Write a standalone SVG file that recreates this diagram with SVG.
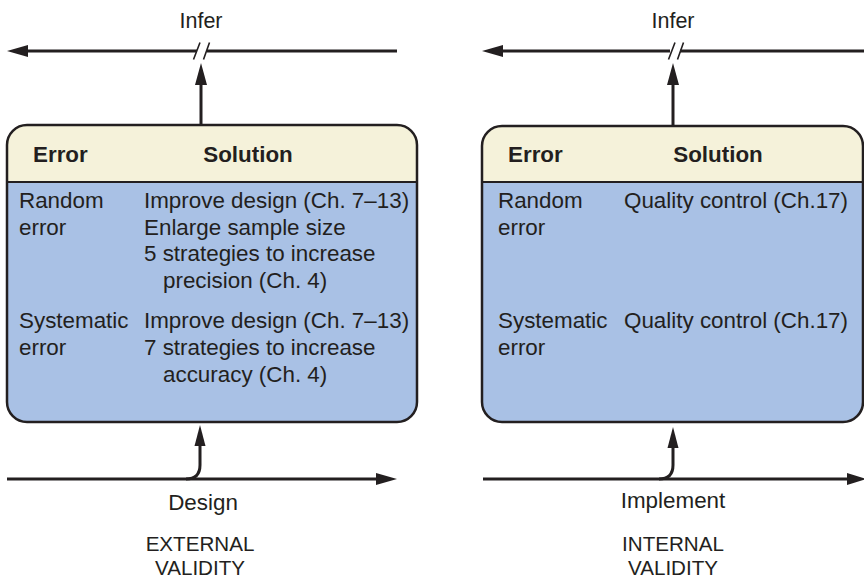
<svg xmlns="http://www.w3.org/2000/svg" width="864" height="579" viewBox="0 0 864 579">
<defs>
<style>
text{font-family:"Liberation Sans",Arial,sans-serif;fill:#231f20;font-size:22.4px}
.b{font-weight:bold}
.m{text-anchor:middle}
.v{font-size:20.6px}
.ln{stroke:#231f20;stroke-width:3;fill:none}
.sl{stroke:#231f20;stroke-width:1.6;fill:none}
.hd{fill:#f5f2da}
.bd{fill:#a9c1e5}
.ol{fill:none;stroke:#231f20;stroke-width:2.5}
.ah{fill:#231f20}
</style>
</defs>
<rect width="864" height="579" fill="#fff"/>
<g id="connectors">
<path class="ln" d="M24,51 H197 M207,51 H397"/>
<polygon class="ah" points="7,51 28,45 28,57"/>
<path class="sl" d="M193.5,59.5 L200,42.5 M203.5,59.5 L209.5,42.5"/>
<path class="ln" d="M201,126 V82"/>
<polygon class="ah" points="201,63 195,85 207,85"/>
<path class="ln" d="M7,479 H380"/>
<polygon class="ah" points="397,479 376,473 376,485"/>
<path class="ln" d="M186,479 Q200,479 200,465 V443"/>
<polygon class="ah" points="200,425 194.5,446 205.5,446"/>
<path class="ln" d="M498,51 H670 M680,51 H864"/>
<polygon class="ah" points="482,51 503,45 503,57"/>
<path class="sl" d="M668.5,59.5 L675,42.5 M677.5,59.5 L683.5,42.5"/>
<path class="ln" d="M673,126 V82"/>
<polygon class="ah" points="673,63 667,85 679,85"/>
<path class="ln" d="M483,479 H850"/>
<polygon class="ah" points="866,479 847,473 847,485"/>
<path class="ln" d="M659,479 Q673,479 673,465 V445"/>
<polygon class="ah" points="673,427 667.5,448 678.5,448"/>
</g>
<g id="label-infer-left"><text class="m" x="201" y="28" style="font-size:21.5px">Infer</text></g>
<g id="label-infer-right"><text class="m" x="673" y="28" style="font-size:21.5px">Infer</text></g>
<g id="box-external">
<rect class="bd" x="7" y="125" width="410" height="297" rx="20"/>
<path class="hd" d="M7,182 V145 A20,20 0 0 1 27,125 H397 A20,20 0 0 1 417,145 V182 Z"/>
<line x1="7" y1="182" x2="417" y2="182" stroke="#231f20" stroke-width="2"/>
<rect class="ol" x="7" y="125" width="410" height="297" rx="20"/>
<text class="b" x="33" y="162">Error</text>
<text class="b m" x="248" y="162">Solution</text>
<text x="19" y="208">Random</text>
<text x="19" y="234.5">error</text>
<text x="144" y="208">Improve design (Ch. 7–13)</text>
<text x="144" y="234.5">Enlarge sample size</text>
<text x="144" y="261">5 strategies to increase</text>
<text x="163" y="287.5">precision (Ch. 4)</text>
<text x="19" y="328">Systematic</text>
<text x="19" y="355">error</text>
<text x="144" y="328">Improve design (Ch. 7–13)</text>
<text x="144" y="355">7 strategies to increase</text>
<text x="163" y="381.5">accuracy (Ch. 4)</text>
</g>
<g id="box-internal">
<rect class="bd" x="482" y="126" width="381" height="296" rx="20"/>
<path class="hd" d="M482,182 V146 A20,20 0 0 1 502,126 H843 A20,20 0 0 1 863,146 V182 Z"/>
<line x1="482" y1="182" x2="863" y2="182" stroke="#231f20" stroke-width="2"/>
<rect class="ol" x="482" y="126" width="381" height="296" rx="20"/>
<text class="b" x="508" y="162">Error</text>
<text class="b m" x="718" y="162">Solution</text>
<text x="498" y="208">Random</text>
<text x="498" y="234.5">error</text>
<text x="624" y="208">Quality control (Ch.17)</text>
<text x="498" y="328">Systematic</text>
<text x="498" y="355">error</text>
<text x="624" y="328">Quality control (Ch.17)</text>
</g>
<g id="label-design"><text class="m" x="203" y="510">Design</text></g>
<g id="label-implement"><text class="m" x="673" y="508">Implement</text></g>
<g id="label-external"><text class="m v" x="200" y="551">EXTERNAL</text><text class="m v" x="200" y="574.5">VALIDITY</text></g>
<g id="label-internal"><text class="m v" x="673" y="551">INTERNAL</text><text class="m v" x="673" y="574.5">VALIDITY</text></g>
</svg>
